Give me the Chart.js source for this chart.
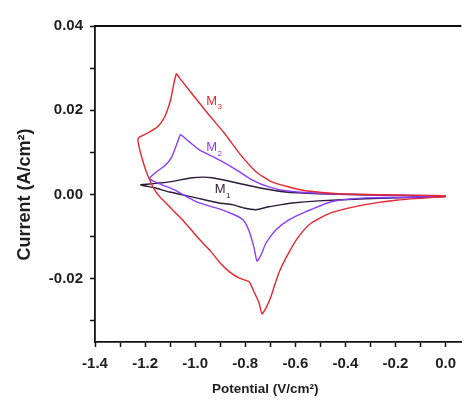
<!DOCTYPE html>
<html>
<head>
<meta charset="utf-8">
<script src="https://cdn.jsdelivr.net/npm/chart.js@4.4.1/dist/chart.umd.min.js"></script>
<style>
  html, body { margin: 0; padding: 0; background: #fff; }
</style>
</head>
<body>
<canvas id="chart" width="464" height="401"></canvas>
<script>
// cyclic voltammograms: potential (V) vs current density (A/cm2)
// each loop runs 0.0 -> cathodic sweep (lower branch) -> back on the anodic branch
const m3Potential = [0.000, -0.190, -0.321, -0.456, -0.535, -0.587, -0.626, -0.666, -0.698, -0.717, -0.733, -0.745, -0.765, -0.785, -0.825, -0.864, -0.904, -0.936, -0.963, -1.003, -1.043, -1.079, -1.110, -1.142, -1.162, -1.182, -1.198, -1.210, -1.221, -1.229, -1.221, -1.190, -1.150, -1.122, -1.098, -1.087, -1.075, -1.063, -1.015, -0.952, -0.884, -0.825, -0.757, -0.694, -0.626, -0.559, -0.428, -0.190, 0.000];
const m3Current = [-0.0005, -0.0013, -0.0024, -0.0043, -0.0067, -0.0100, -0.0138, -0.0186, -0.0243, -0.0269, -0.0283, -0.0257, -0.0231, -0.0207, -0.0198, -0.0183, -0.0160, -0.0136, -0.0119, -0.0093, -0.0065, -0.0043, -0.0024, -0.0005, 0.0011, 0.0035, 0.0059, 0.0082, 0.0106, 0.0130, 0.0137, 0.0146, 0.0161, 0.0184, 0.0225, 0.0258, 0.0286, 0.0277, 0.0241, 0.0194, 0.0146, 0.0099, 0.0054, 0.0030, 0.0018, 0.0009, 0.0002, -0.0001, -0.0003];

const m2Potential = [0.000, -0.190, -0.321, -0.456, -0.559, -0.626, -0.678, -0.717, -0.737, -0.753, -0.765, -0.785, -0.809, -0.844, -0.904, -0.983, -1.035, -1.083, -1.154, -1.182, -1.174, -1.150, -1.118, -1.094, -1.079, -1.067, -1.059, -1.047, -1.023, -0.983, -0.904, -0.837, -0.773, -0.706, -0.638, -0.507, -0.269, 0.000];
const m2Current = [-0.0005, -0.0007, -0.0008, -0.0017, -0.0041, -0.0060, -0.0084, -0.0115, -0.0143, -0.0158, -0.0126, -0.0086, -0.0060, -0.0048, -0.0034, -0.0020, -0.0005, 0.0011, 0.0028, 0.0038, 0.0044, 0.0056, 0.0070, 0.0089, 0.0111, 0.0130, 0.0142, 0.0137, 0.0125, 0.0106, 0.0082, 0.0059, 0.0035, 0.0018, 0.0009, 0.0003, -0.0001, -0.0003];

const m1Potential = [0.000, -0.190, -0.321, -0.507, -0.614, -0.666, -0.706, -0.757, -0.805, -0.852, -0.904, -0.995, -1.102, -1.162, -1.217, -1.182, -1.102, -1.011, -0.932, -0.837, -0.745, -0.638, -0.507, -0.269, 0.000];
const m1Current = [-0.0005, -0.0008, -0.0010, -0.0015, -0.0020, -0.0025, -0.0029, -0.0036, -0.0032, -0.0024, -0.0020, -0.0008, 0.0006, 0.0016, 0.0023, 0.0025, 0.0030, 0.0040, 0.0040, 0.0028, 0.0016, 0.0006, 0.0002, -0.0002, -0.0004];

const seriesNames = ['M3', 'M2', 'M1'];
const seriesColors = ['#e8262b', '#8a3dff', '#2d1b3a'];

// curve labels "M" with subscript, placed in data units
const labelMain = ['M', 'M', 'M'];
const labelSub = ['3', '2', '1'];
const labelX = [-0.934, -0.934, -0.900];
const labelY = [0.0222, 0.0111, 0.0011];

const xMajor = [-1.4, -1.2, -1.0, -0.8, -0.6, -0.4, -0.2, 0.0];
const xMajorText = ['-1.4', '-1.2', '-1.0', '-0.8', '-0.6', '-0.4', '-0.2', '0.0'];
const xMinor = [-1.3, -1.1, -0.9, -0.7, -0.5, -0.3, -0.1];
const yMajor = [-0.02, 0.00, 0.02, 0.04];
const yMajorText = ['-0.02', '0.00', '0.02', '0.04'];
const yMinor = [-0.03, -0.01, 0.01, 0.03];

const xTitle = 'Potential (V/cm\u00b2)';
const yTitle = 'Current (A/cm\u00b2)';

const TEXT = '#1e1e1e';
const AXIS = '#111';
const FONT = "'Liberation Sans', Arial, sans-serif";

function toPoints(xs, ys) {
  return xs.map((x, i) => ({ x: x, y: ys[i] }));
}

function tickList(major, minor) {
  return major.concat(minor).sort((a, b) => a - b).map(v => ({ value: v }));
}

function labelFor(major, text, v) {
  const i = major.findIndex(t => Math.abs(t - v) < 1e-9);
  return i < 0 ? '' : text[i];
}

// frame line on top, axis titles, curve labels
const extras = {
  id: 'extras',
  afterDraw(chart) {
    const c = chart.ctx;
    const area = chart.chartArea;
    const xs = chart.scales.x;
    const ys = chart.scales.y;
    c.save();
    c.strokeStyle = AXIS;
    c.lineWidth = 1.8;
    c.beginPath();
    c.moveTo(area.left, area.top);
    c.lineTo(area.right, area.top);
    c.stroke();

    c.fillStyle = TEXT;
    c.textAlign = 'center';
    c.textBaseline = 'middle';
    c.font = 'bold 13.5px ' + FONT;
    c.fillText(xTitle, xs.getPixelForValue(-0.72), 389);

    c.font = 'bold 18px ' + FONT;
    c.translate(25, ys.getPixelForValue(0));
    c.rotate(-Math.PI / 2);
    c.fillText(yTitle, 0, 0);
    c.restore();

    c.save();
    c.textBaseline = 'middle';
    c.textAlign = 'left';
    for (let i = 0; i < labelMain.length; i++) {
      const px = xs.getPixelForValue(labelX[i]);
      const py = ys.getPixelForValue(labelY[i]);
      c.fillStyle = seriesColors[i];
      c.font = '13px ' + FONT;
      const w = c.measureText(labelMain[i]).width;
      c.fillText(labelMain[i], px - w / 2, py);
      c.font = '8px ' + FONT;
      c.fillText(labelSub[i], px + w / 2 + 0.5, py + 6);
    }
    c.restore();
  }
};

const ctx = document.getElementById('chart').getContext('2d');

const chart = new Chart(ctx, {
  type: 'scatter',
  data: {
    datasets: [
      { label: seriesNames[0], data: toPoints(m3Potential, m3Current), borderColor: seriesColors[0] },
      { label: seriesNames[1], data: toPoints(m2Potential, m2Current), borderColor: seriesColors[1] },
      { label: seriesNames[2], data: toPoints(m1Potential, m1Current), borderColor: seriesColors[2] }
    ]
  },
  options: {
    responsive: false,
    animation: false,
    devicePixelRatio: 1,
    layout: { padding: { top: 26, right: 0, bottom: 0, left: 0 } },
    datasets: {
      scatter: {
        showLine: true,
        pointRadius: 0,
        borderWidth: 1.4,
        tension: 0.2
      }
    },
    plugins: {
      legend: { display: false },
      tooltip: { enabled: false }
    },
    scales: {
      x: {
        type: 'linear',
        min: -1.4,
        max: 0.063,
        afterFit: (s) => { s.height = 59; },
        afterBuildTicks: (s) => { s.ticks = tickList(xMajor, xMinor); },
        ticks: {
          callback: (v) => labelFor(xMajor, xMajorText, v),
          font: { family: FONT, size: 15, weight: 'bold' },
          color: TEXT,
          padding: 8,
          maxRotation: 0,
          autoSkip: false
        },
        grid: { drawOnChartArea: false, tickLength: 5, tickColor: AXIS, tickWidth: 1.5 },
        border: { color: AXIS, width: 1.8 }
      },
      y: {
        type: 'linear',
        min: -0.035,
        max: 0.04,
        afterFit: (s) => { s.width = 95; },
        afterBuildTicks: (s) => { s.ticks = tickList(yMajor, yMinor); },
        ticks: {
          callback: (v) => labelFor(yMajor, yMajorText, v),
          font: { family: FONT, size: 15, weight: 'bold' },
          color: TEXT,
          padding: 7,
          autoSkip: false
        },
        grid: { drawOnChartArea: false, tickLength: 5, tickColor: AXIS, tickWidth: 1.5 },
        border: { color: AXIS, width: 1.8 }
      }
    }
  },
  plugins: [extras]
});
</script>
</body>
</html>
